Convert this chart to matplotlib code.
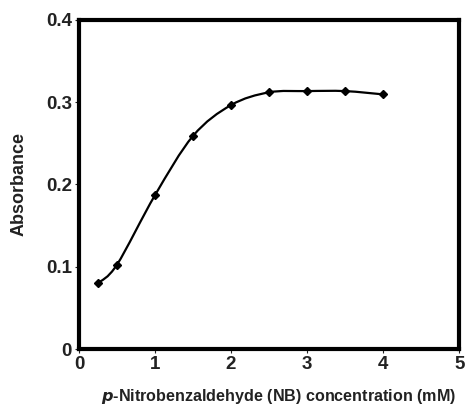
import numpy as np
import matplotlib
matplotlib.use("Agg")
import matplotlib.pyplot as plt
from matplotlib.path import Path
from matplotlib.patches import PathPatch

# concentration (mM) and absorbance
conc = [0.25, 0.5, 1.0, 1.5, 2.0, 2.5, 3.0, 3.5, 4.0]
absorbance = [0.080, 0.1025, 0.187, 0.259, 0.2965, 0.312, 0.3135, 0.3135, 0.3095]

x_ticks = [0, 1, 2, 3, 4, 5]
y_ticks = [0, 0.1, 0.2, 0.3, 0.4]
y_tick_labels = ["0", "0.1", "0.2", "0.3", "0.4"]

plt.rcParams['font.family'] = ['Liberation Sans', 'DejaVu Sans']
plt.rcParams['font.weight'] = 'bold'


def smooth_path(xs, ys, t=1 / 6):
    # Excel-like smoothed line: cubic bezier segments with catmull-rom tangents
    xs = np.asarray(xs, float)
    ys = np.asarray(ys, float)
    n = len(xs)
    verts = [(xs[0], ys[0])]
    codes = [Path.MOVETO]
    for i in range(n - 1):
        i0 = max(i - 1, 0)
        i3 = min(i + 2, n - 1)
        c1 = (xs[i] + (xs[i + 1] - xs[i0]) * t, ys[i] + (ys[i + 1] - ys[i0]) * t)
        c2 = (xs[i + 1] - (xs[i3] - xs[i]) * t, ys[i + 1] - (ys[i3] - ys[i]) * t)
        verts += [c1, c2, (xs[i + 1], ys[i + 1])]
        codes += [Path.CURVE4] * 3
    return Path(verts, codes)


fig = plt.figure(figsize=(4.7, 4.07), dpi=100)
ax = fig.add_axes([0.168, 0.1425, 0.809, 0.8085])

ax.add_patch(PathPatch(smooth_path(conc, absorbance), facecolor='none',
                       edgecolor='black', linewidth=1.6))
ax.plot(conc, absorbance, linestyle='none', marker='D', markersize=4,
        color='black')

ax.set_xlim(0, 5)
ax.set_ylim(0, 0.4)
ax.set_xticks(x_ticks)
ax.set_yticks(y_ticks)
ax.set_yticklabels(y_tick_labels)
ax.tick_params(direction='out', length=3, width=0.8, labelsize=13.5, pad=2,
               colors='#222222')

for s in ax.spines.values():
    s.set_linewidth(3)

ax.set_xlabel(r'$\bfit{p}$-Nitrobenzaldehyde (NB) concentration (mM)',
              fontsize=11.6, fontweight='bold', color='#222222')
ax.set_ylabel('Absorbance', fontsize=13, fontweight='bold', color='#222222')
# label spots in the original are a bit off-centre
ax.xaxis.set_label_coords(0.526, -0.114)
ax.yaxis.set_label_coords(-0.134, 0.5)

fig.savefig('out.png', dpi=100)
